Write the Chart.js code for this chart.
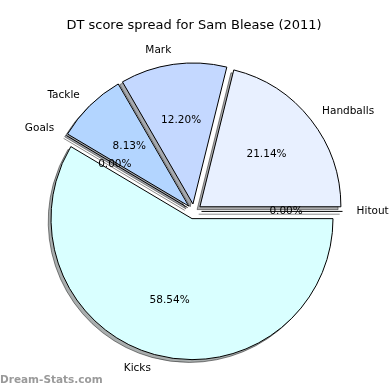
<!DOCTYPE html>
<html>
<head>
<meta charset="utf-8">
<script src="https://cdn.jsdelivr.net/npm/chart.js@4.4.1/dist/chart.umd.min.js"></script>
<style>
  html, body { margin: 0; padding: 0; background: #fff; }
</style>
</head>
<body>
<canvas id="myChart" width="390" height="390"></canvas>
<script>
// DT score components, clockwise from 3 o'clock
var categories = ["Kicks", "Goals", "Tackle", "Mark", "Handballs", "Hitout"];
var scores = [72, 0, 10, 15, 26, 0];
var colours = ['#d9ffff', '#cfe8ff', '#b3d5ff', '#c4d8ff', '#e8f0ff', '#f0f8ff'];

var explode = 7.5;    // px each wedge is pushed out
var shadowDx = -2.8;  // matplotlib style drop shadow
var shadowDy = 2.8;

function midAngle(arc) {
    return (arc.startAngle + arc.endAngle) / 2;
}

// zero-sized slices: chart.js skips them, matplotlib draws a line
function drawZeroWedge(ctx, arc, dx, dy) {
    var a = arc.startAngle;
    var cx = arc.x + Math.cos(a) * explode + dx;
    var cy = arc.y + Math.sin(a) * explode + dy;
    ctx.beginPath();
    ctx.moveTo(cx, cy);
    ctx.lineTo(cx + Math.cos(a) * arc.outerRadius, cy + Math.sin(a) * arc.outerRadius);
    ctx.stroke();
}

var explodedPie = {
    id: 'explodedPie',
    beforeDatasetDraw: function(chart, args) {
        var ctx = chart.ctx;
        var arcs = args.meta.data;

        // shadows first, under every wedge
        ctx.save();
        ctx.globalAlpha = 0.45;
        ctx.filter = 'brightness(0.3)';
        arcs.forEach(function(arc) {
            var m = midAngle(arc);
            ctx.save();
            if (arc.circumference === 0) {
                ctx.strokeStyle = '#000';
                ctx.lineWidth = 1;
                drawZeroWedge(ctx, arc, shadowDx, shadowDy);
            } else {
                ctx.translate(Math.cos(m) * explode + shadowDx, Math.sin(m) * explode + shadowDy);
                arc.draw(ctx);
            }
            ctx.restore();
        });
        ctx.restore();

        arcs.forEach(function(arc) {
            var m = midAngle(arc);
            ctx.save();
            if (arc.circumference === 0) {
                ctx.strokeStyle = '#000';
                ctx.lineWidth = 1;
                drawZeroWedge(ctx, arc, 0, 0);
            } else {
                ctx.translate(Math.cos(m) * explode, Math.sin(m) * explode);
                arc.draw(ctx);
            }
            ctx.restore();
        });
        return false;
    },
    afterDatasetsDraw: function(chart) {
        var ctx = chart.ctx;
        var arcs = chart.getDatasetMeta(0).data;
        var total = scores.reduce(function(a, b) { return a + b; }, 0);
        ctx.save();
        ctx.fillStyle = '#000';
        ctx.font = '10.5px "DejaVu Sans"';
        ctx.textBaseline = 'middle';
        arcs.forEach(function(arc, i) {
            var m = midAngle(arc);
            var r = arc.outerRadius;
            var lx = arc.x + Math.cos(m) * (explode + 1.1 * r);
            var ly = arc.y + Math.sin(m) * (explode + 1.1 * r);
            ctx.textAlign = (lx - arc.x) > 0 ? 'left' : 'right';
            ctx.fillText(categories[i], lx, ly);

            var px = arc.x + Math.cos(m) * (explode + 0.6 * r);
            var py = arc.y + Math.sin(m) * (explode + 0.6 * r);
            ctx.textAlign = 'center';
            ctx.fillText((scores[i] / total * 100).toFixed(2) + '%', px, py);
        });

        // watermark
        ctx.font = 'bold 10.5px "DejaVu Sans"';
        ctx.fillStyle = '#9a9a9a';
        ctx.textAlign = 'left';
        ctx.fillText('Dream-Stats.com', 0, 380);
        ctx.restore();
    }
};

var ctx = document.getElementById("myChart").getContext('2d');
var myChart = new Chart(ctx, {
    type: 'pie',
    data: {
        labels: categories,
        datasets: [{
            data: scores,
            backgroundColor: colours,
            borderColor: '#000',
            borderWidth: 1,
            borderJoinStyle: 'miter'
        }]
    },
    options: {
        responsive: false,
        animation: false,
        rotation: 90,
        radius: 141,
        layout: {
            padding: { left: 44, right: 46, top: 0, bottom: 10.8 }
        },
        plugins: {
            legend: { display: false },
            tooltip: { enabled: false },
            title: {
                display: true,
                text: 'DT score spread for Sam Blease (2011)',
                color: '#000',
                font: { family: 'DejaVu Sans', size: 13, weight: 'normal' },
                padding: { top: 18, bottom: 10 }
            }
        }
    },
    plugins: [explodedPie]
});
</script>
</body>
</html>
